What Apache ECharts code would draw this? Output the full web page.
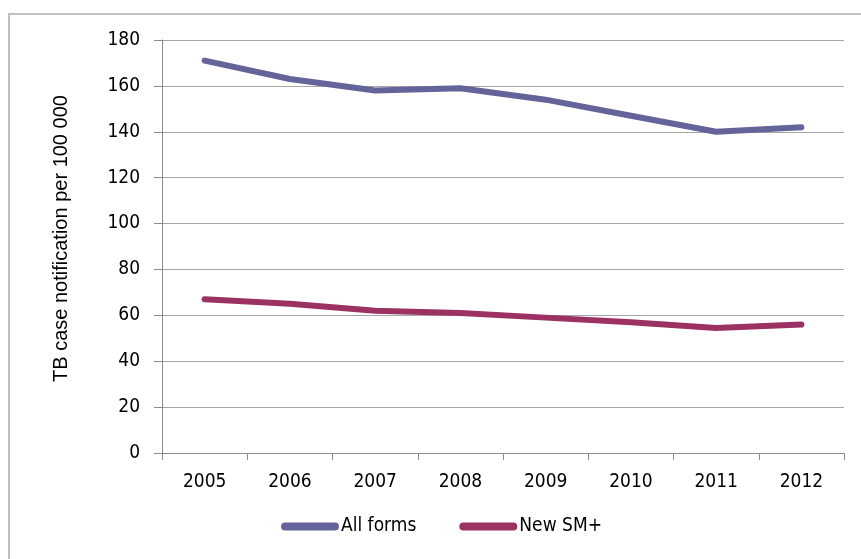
<!DOCTYPE html>
<html><head><meta charset="utf-8">
<script src="https://cdn.jsdelivr.net/npm/echarts@6/dist/echarts.min.js"></script>
<style>html,body{margin:0;padding:0;background:#fff}#c{width:861px;height:559px}</style>
</head><body><div id="c"></div>
<script>
const years = ['2005','2006','2007','2008','2009','2010','2011','2012'];
const allForms = [171, 163, 158, 159, 154, 147, 140, 142];
const newSM = [67, 65, 62, 61, 59, 57, 54.5, 56];
const seriesNames = ['All forms', 'New SM+'];
const yTicks = {min: 0, max: 180, interval: 20};
const yName = 'TB case notification per 100 000';

const narrow = '"Liberation Sans Narrow", "Arial Narrow", "DejaVu Sans Condensed", sans-serif';
const pill = 'path://M4,0 L54,0 A4,4 0 0 1 54,8 L4,8 A4,4 0 0 1 4,0 Z';
const chart = echarts.init(document.getElementById('c'));
chart.setOption({
  animation: false,
  graphic: [{type:'rect', shape:{x:9, y:14, width:880, height:580}, style:{fill:'none', stroke:'#c0c0c0', lineWidth:2}, z:-1}],
  grid: {left:162, right:17, top:40, bottom:106},
  legend: {
    top: 517, left: 281, itemWidth: 58, itemHeight: 8, itemGap: 43,
    icon: pill, padding: 0,
    textStyle: {fontFamily: narrow, fontSize: 19, color:'#000', padding:[0,0,0,-3]},
    data: seriesNames
  },
  xAxis: {
    type:'category', data: years, boundaryGap: true,
    axisLine:{lineStyle:{color:'#8c8c8c', width:1}},
    axisTick:{show:true, length:7, lineStyle:{color:'#8c8c8c'}},
    axisLabel:{fontFamily: narrow, fontSize:19, color:'#000', margin:20}
  },
  yAxis: {
    type:'value', min:yTicks.min, max:yTicks.max, interval:yTicks.interval,
    name: yName, nameLocation:'middle', nameGap:91,
    nameTextStyle:{fontFamily:'"Liberation Sans", Arial, sans-serif', fontSize:20, color:'#000', padding:[0,0,0,16]},
    axisLine:{show:true, lineStyle:{color:'#8c8c8c'}},
    axisTick:{show:true, length:8, lineStyle:{color:'#8c8c8c'}},
    axisLabel:{fontFamily: narrow, fontSize:19, color:'#000', margin:22},
    splitLine:{lineStyle:{color:'#a6a6a6', width:1}}
  },
  series: [
    {name: seriesNames[0], type:'line', data: allForms, symbol:'none', color:'#64649a',
     lineStyle:{width:6, color:'#64649a', cap:'round', join:'round'}},
    {name: seriesNames[1], type:'line', data: newSM, symbol:'none', color:'#9c3264',
     lineStyle:{width:6, color:'#9c3264', cap:'round', join:'round'}}
  ]
});
</script></body></html>
